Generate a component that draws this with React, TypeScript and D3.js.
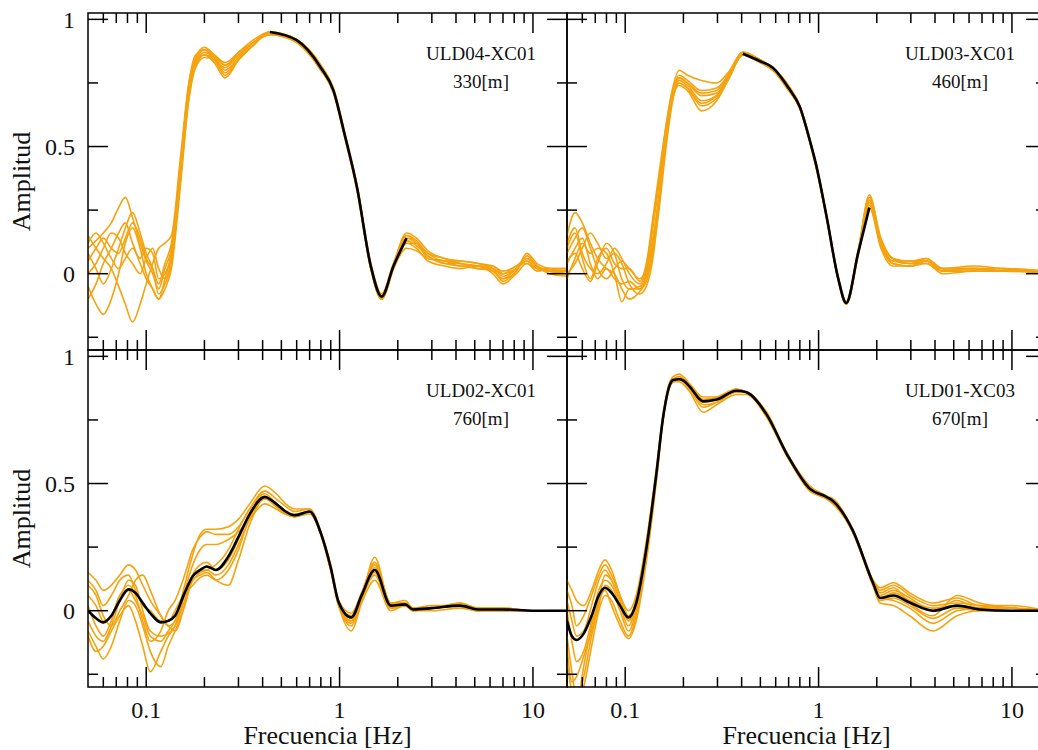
import * as d3 from "d3";

const W = 1038;
const H = 750;
const PANEL_W = 479;
const PANEL_H = 337;
const X_DOMAIN: [number, number] = [0.05, 15];
const Y_DOMAIN: [number, number] = [-0.3, 1.025];
const ORANGE = "#f4a310";
const FONT = "'Liberation Serif', 'DejaVu Serif', serif";

const xMajor = [0.1, 1, 10];
const xMinor = [0.06, 0.07, 0.08, 0.09, 0.2, 0.3, 0.4, 0.5, 0.6, 0.7, 0.8, 0.9, 2, 3, 4, 5, 6, 7, 8, 9];
const yMajor = [0, 0.5, 1];
const yMinor = [-0.25, 0.25, 0.75];
const xTickLabels = ["0.1", "1", "10"];
const yTickLabels = ["0", "0.5", "1"];

// ULD04-XC01, 330 m
const freqA = [0.05, 0.055, 0.06, 0.066, 0.072, 0.078, 0.085, 0.093, 0.1, 0.108, 0.116, 0.125, 0.135, 0.15, 0.166, 0.18, 0.2, 0.225, 0.256, 0.3, 0.36, 0.436, 0.6, 0.8, 0.93, 1.06, 1.23, 1.45, 1.65, 1.9, 2.22, 2.5, 2.86, 3.5, 4.2, 5.2, 6.2, 7.0, 8.2, 9.3, 10.5, 12.2, 15];
const orangeA = [
  [0.10, 0.13, 0.16, 0.20, 0.26, 0.30, 0.22, 0.12, 0.05, 0.00, -0.06, 0.02, 0.10, 0.42, 0.74, 0.85, 0.89, 0.86, 0.82, 0.87, 0.92, 0.95, 0.92, 0.81, 0.72, 0.55, 0.34, 0.04, -0.08, 0.04, 0.15, 0.13, 0.08, 0.06, 0.04, 0.03, 0.01, -0.02, 0.02, 0.06, 0.03, 0.01, 0.00],
  [-0.05, -0.12, -0.16, -0.10, 0.00, 0.12, 0.18, 0.10, 0.00, -0.06, -0.10, -0.02, 0.08, 0.40, 0.70, 0.82, 0.86, 0.84, 0.78, 0.84, 0.90, 0.95, 0.91, 0.80, 0.71, 0.54, 0.33, 0.02, -0.10, 0.02, 0.12, 0.10, 0.05, 0.03, 0.02, 0.03, 0.03, 0.00, 0.03, 0.04, 0.01, 0.02, 0.02],
  [0.15, 0.10, 0.06, 0.02, -0.05, -0.12, -0.19, -0.12, -0.04, 0.04, 0.10, 0.12, 0.15, 0.45, 0.75, 0.86, 0.88, 0.86, 0.83, 0.87, 0.91, 0.95, 0.92, 0.82, 0.73, 0.56, 0.35, 0.04, -0.08, 0.04, 0.16, 0.14, 0.09, 0.06, 0.05, 0.04, 0.02, -0.03, 0.01, 0.07, 0.03, 0.00, -0.01],
  [0.05, 0.10, 0.14, 0.10, 0.08, 0.14, 0.20, 0.14, 0.06, 0.02, -0.04, 0.04, 0.12, 0.40, 0.71, 0.83, 0.87, 0.85, 0.80, 0.85, 0.91, 0.95, 0.91, 0.81, 0.72, 0.55, 0.34, 0.03, -0.09, 0.03, 0.13, 0.11, 0.07, 0.04, 0.04, 0.02, 0.02, -0.01, 0.02, 0.05, 0.02, 0.01, 0.01],
  [0.00, 0.04, 0.10, 0.16, 0.14, 0.08, 0.04, 0.00, 0.06, 0.10, 0.02, -0.02, 0.06, 0.36, 0.68, 0.81, 0.85, 0.84, 0.81, 0.86, 0.91, 0.94, 0.91, 0.80, 0.72, 0.55, 0.34, 0.02, -0.10, 0.02, 0.10, 0.09, 0.06, 0.05, 0.03, 0.03, 0.00, -0.04, 0.00, 0.04, 0.02, 0.02, 0.02],
  [0.08, 0.02, -0.04, 0.02, 0.10, 0.18, 0.24, 0.16, 0.08, 0.02, -0.08, -0.04, 0.04, 0.38, 0.73, 0.84, 0.88, 0.85, 0.79, 0.85, 0.90, 0.95, 0.92, 0.82, 0.72, 0.55, 0.35, 0.03, -0.09, 0.03, 0.15, 0.12, 0.08, 0.05, 0.05, 0.04, 0.03, 0.01, 0.03, 0.06, 0.03, 0.01, 0.01],
  [-0.10, -0.04, 0.04, 0.10, 0.16, 0.20, 0.12, 0.06, 0.10, 0.08, -0.02, 0.00, 0.08, 0.42, 0.74, 0.84, 0.86, 0.83, 0.77, 0.84, 0.90, 0.95, 0.92, 0.81, 0.71, 0.54, 0.33, 0.02, -0.10, 0.02, 0.14, 0.12, 0.07, 0.04, 0.03, 0.02, 0.01, -0.02, 0.01, 0.08, 0.04, 0.02, 0.01],
  [0.12, 0.16, 0.12, 0.06, 0.02, 0.06, 0.10, 0.04, -0.02, -0.06, -0.10, -0.06, 0.02, 0.34, 0.69, 0.82, 0.86, 0.85, 0.82, 0.86, 0.91, 0.94, 0.91, 0.81, 0.72, 0.55, 0.34, 0.03, -0.09, 0.03, 0.12, 0.12, 0.06, 0.05, 0.04, 0.03, 0.02, 0.00, 0.02, 0.05, 0.02, 0.01, 0.00],
];
const meanFreqA = [0.436, 0.6, 0.8, 0.93, 1.06, 1.23, 1.45, 1.65, 1.9, 2.22];
const meanA = [0.95, 0.918, 0.81, 0.72, 0.55, 0.34, 0.03, -0.09, 0.03, 0.14];

// ULD03-XC01, 460 m
const freqB = [0.05, 0.055, 0.06, 0.066, 0.072, 0.08, 0.088, 0.096, 0.105, 0.119, 0.13, 0.139, 0.15, 0.164, 0.176, 0.19, 0.21, 0.248, 0.297, 0.34, 0.406, 0.5, 0.58, 0.7, 0.8, 0.9, 0.97, 1.1, 1.26, 1.39, 1.6, 1.83, 2.1, 2.42, 3.0, 3.6, 4.4, 6.3, 9, 15];
const orangeB = [
  [0.15, 0.24, 0.20, 0.12, 0.06, 0.02, 0.00, -0.06, -0.10, -0.07, -0.02, 0.08, 0.26, 0.52, 0.68, 0.75, 0.73, 0.66, 0.69, 0.76, 0.86, 0.83, 0.80, 0.72, 0.65, 0.52, 0.42, 0.22, -0.02, -0.12, 0.08, 0.30, 0.14, 0.06, 0.04, 0.06, 0.02, 0.02, 0.02, 0.01],
  [0.00, 0.04, 0.10, 0.16, 0.12, 0.06, 0.08, 0.04, -0.04, -0.08, -0.04, 0.06, 0.28, 0.55, 0.71, 0.78, 0.76, 0.72, 0.73, 0.78, 0.87, 0.84, 0.81, 0.73, 0.66, 0.53, 0.43, 0.23, -0.01, -0.11, 0.09, 0.29, 0.12, 0.04, 0.03, 0.05, 0.01, 0.02, 0.01, 0.01],
  [0.08, 0.14, 0.18, 0.10, 0.02, -0.02, 0.02, 0.05, 0.02, -0.02, 0.04, 0.20, 0.38, 0.60, 0.73, 0.80, 0.78, 0.76, 0.75, 0.79, 0.87, 0.84, 0.81, 0.74, 0.66, 0.53, 0.43, 0.23, -0.01, -0.11, 0.08, 0.31, 0.13, 0.05, 0.05, 0.05, 0.02, 0.03, 0.02, 0.01],
  [0.05, 0.08, 0.02, -0.03, 0.04, 0.12, 0.08, -0.02, -0.06, -0.05, 0.00, 0.12, 0.32, 0.56, 0.70, 0.76, 0.74, 0.68, 0.70, 0.77, 0.86, 0.83, 0.81, 0.73, 0.65, 0.52, 0.43, 0.22, -0.02, -0.12, 0.07, 0.27, 0.11, 0.05, 0.04, 0.04, 0.01, 0.01, 0.01, 0.01],
  [0.12, 0.18, 0.08, 0.02, 0.00, 0.04, 0.10, 0.06, 0.00, -0.04, 0.04, 0.18, 0.36, 0.58, 0.71, 0.77, 0.75, 0.70, 0.71, 0.77, 0.86, 0.84, 0.81, 0.73, 0.66, 0.53, 0.43, 0.22, -0.02, -0.11, 0.08, 0.28, 0.12, 0.06, 0.05, 0.06, 0.02, 0.02, 0.01, 0.01],
  [-0.02, 0.06, 0.12, 0.08, 0.10, 0.08, 0.00, -0.11, -0.06, -0.06, 0.00, 0.10, 0.30, 0.54, 0.69, 0.74, 0.72, 0.64, 0.68, 0.76, 0.86, 0.83, 0.80, 0.72, 0.65, 0.52, 0.42, 0.22, -0.02, -0.12, 0.07, 0.26, 0.10, 0.03, 0.03, 0.04, 0.00, 0.01, 0.01, 0.00],
  [0.10, 0.16, 0.06, -0.02, 0.06, 0.10, 0.04, 0.02, 0.02, -0.03, 0.06, 0.22, 0.40, 0.60, 0.72, 0.77, 0.75, 0.71, 0.72, 0.78, 0.87, 0.84, 0.81, 0.73, 0.66, 0.53, 0.43, 0.23, -0.01, -0.11, 0.09, 0.29, 0.13, 0.06, 0.04, 0.05, 0.02, 0.02, 0.02, 0.01],
  [0.04, 0.10, 0.14, 0.04, -0.02, 0.02, -0.02, -0.04, -0.03, -0.06, 0.02, 0.14, 0.30, 0.55, 0.70, 0.75, 0.73, 0.67, 0.70, 0.77, 0.86, 0.83, 0.80, 0.73, 0.65, 0.52, 0.42, 0.22, -0.02, -0.12, 0.08, 0.28, 0.11, 0.04, 0.03, 0.05, 0.01, 0.02, 0.01, 0.01],
];
const meanFreqB = [0.406, 0.5, 0.58, 0.7, 0.8, 0.9, 0.97, 1.1, 1.26, 1.39, 1.6, 1.83];
const meanB = [0.865, 0.835, 0.81, 0.73, 0.656, 0.525, 0.43, 0.225, -0.015, -0.115, 0.08, 0.26];

// ULD02-XC01, 760 m
const freqC = [0.05, 0.055, 0.06, 0.066, 0.073, 0.081, 0.088, 0.096, 0.105, 0.119, 0.13, 0.141, 0.158, 0.174, 0.19, 0.206, 0.229, 0.266, 0.3, 0.343, 0.41, 0.47, 0.526, 0.585, 0.7, 0.8, 0.9, 0.99, 1.15, 1.3, 1.52, 1.84, 2.18, 2.4, 3.0, 4.2, 5.2, 7, 10, 15];
const orangeC = [
  [0.15, 0.12, 0.08, 0.10, 0.14, 0.18, 0.16, 0.10, 0.04, -0.02, -0.06, -0.04, 0.10, 0.22, 0.30, 0.32, 0.32, 0.33, 0.36, 0.42, 0.49, 0.46, 0.42, 0.40, 0.40, 0.31, 0.17, 0.02, -0.04, 0.05, 0.17, 0.03, 0.03, 0.01, 0.01, 0.02, 0.01, 0.00, 0.00, 0.00],
  [-0.08, -0.14, -0.19, -0.14, -0.04, 0.04, 0.02, -0.06, -0.16, -0.22, -0.14, -0.08, 0.02, 0.14, 0.18, 0.19, 0.16, 0.20, 0.28, 0.38, 0.45, 0.42, 0.39, 0.37, 0.39, 0.30, 0.16, 0.02, -0.06, 0.04, 0.15, 0.01, 0.02, 0.00, 0.00, 0.01, 0.00, 0.00, 0.00, 0.00],
  [0.10, 0.06, -0.02, -0.06, 0.00, 0.06, 0.12, 0.14, 0.08, -0.02, -0.06, -0.08, 0.02, 0.12, 0.14, 0.15, 0.12, 0.10, 0.20, 0.34, 0.44, 0.41, 0.38, 0.37, 0.39, 0.30, 0.17, 0.03, -0.02, 0.07, 0.18, 0.03, 0.04, 0.01, 0.01, 0.03, 0.01, 0.01, 0.00, 0.00],
  [-0.04, -0.10, -0.12, -0.06, 0.04, 0.12, 0.10, 0.00, -0.08, -0.10, -0.09, -0.06, 0.04, 0.14, 0.16, 0.16, 0.14, 0.18, 0.26, 0.36, 0.44, 0.41, 0.38, 0.37, 0.38, 0.30, 0.16, 0.02, -0.05, 0.05, 0.14, 0.01, 0.02, 0.00, 0.01, 0.02, 0.00, 0.01, 0.00, 0.00],
  [0.06, 0.02, -0.04, -0.02, 0.06, 0.10, 0.06, -0.04, -0.12, -0.08, 0.00, 0.04, 0.14, 0.24, 0.29, 0.31, 0.30, 0.30, 0.33, 0.40, 0.47, 0.44, 0.41, 0.39, 0.40, 0.31, 0.18, 0.04, -0.01, 0.07, 0.19, 0.03, 0.03, 0.01, 0.02, 0.02, 0.01, 0.00, 0.00, 0.00],
  [-0.10, -0.16, -0.14, -0.08, -0.02, 0.02, -0.04, -0.14, -0.24, -0.16, -0.10, -0.06, 0.06, 0.12, 0.15, 0.16, 0.18, 0.24, 0.32, 0.40, 0.46, 0.42, 0.39, 0.37, 0.39, 0.30, 0.16, 0.02, -0.08, 0.03, 0.12, 0.00, 0.02, 0.00, 0.01, 0.02, 0.00, 0.00, 0.00, 0.00],
  [0.12, 0.08, 0.02, 0.06, 0.12, 0.14, 0.08, 0.02, 0.00, -0.04, -0.04, 0.00, 0.08, 0.18, 0.24, 0.26, 0.26, 0.28, 0.31, 0.36, 0.42, 0.40, 0.38, 0.38, 0.39, 0.31, 0.17, 0.03, -0.03, 0.06, 0.16, 0.02, 0.03, 0.01, 0.01, 0.03, 0.01, 0.01, 0.00, 0.00],
  [0.02, -0.06, -0.10, -0.04, 0.06, 0.08, 0.04, -0.02, -0.10, -0.12, -0.08, -0.04, 0.06, 0.10, 0.13, 0.14, 0.12, 0.16, 0.24, 0.37, 0.45, 0.42, 0.39, 0.37, 0.39, 0.30, 0.16, 0.02, -0.04, 0.05, 0.21, 0.02, 0.02, 0.00, 0.01, 0.02, 0.00, 0.00, 0.00, 0.00],
];
const meanC = [0.0, -0.03, -0.046, -0.02, 0.04, 0.084, 0.07, 0.03, -0.01, -0.046, -0.04, -0.02, 0.07, 0.135, 0.16, 0.174, 0.16, 0.213, 0.29, 0.38, 0.447, 0.42, 0.39, 0.375, 0.39, 0.305, 0.17, 0.032, -0.027, 0.06, 0.16, 0.02, 0.025, 0.005, 0.01, 0.02, 0.005, 0.005, 0.0, 0.0];

// ULD01-XC03, 670 m
const freqD = [0.05, 0.053, 0.056, 0.061, 0.067, 0.073, 0.0786, 0.085, 0.094, 0.104, 0.114, 0.129, 0.145, 0.157, 0.17, 0.177, 0.19, 0.2, 0.216, 0.253, 0.297, 0.376, 0.42, 0.54, 0.685, 0.9, 1.1, 1.19, 1.5, 1.91, 2.08, 2.44, 2.96, 3.9, 5.2, 6.8, 10, 15];
const orangeD = [
  [0.12, 0.08, 0.04, 0.02, 0.08, 0.16, 0.20, 0.16, 0.06, 0.00, 0.06, 0.28, 0.56, 0.77, 0.89, 0.91, 0.92, 0.91, 0.89, 0.84, 0.84, 0.87, 0.86, 0.77, 0.62, 0.49, 0.45, 0.43, 0.32, 0.12, 0.08, 0.10, 0.06, 0.02, 0.03, 0.02, 0.01, 0.00],
  [-0.20, -0.32, -0.36, -0.30, -0.14, 0.00, 0.06, 0.04, -0.04, -0.10, -0.02, 0.22, 0.52, 0.75, 0.88, 0.90, 0.91, 0.90, 0.87, 0.80, 0.82, 0.86, 0.86, 0.77, 0.61, 0.48, 0.44, 0.42, 0.31, 0.10, 0.03, 0.02, -0.02, -0.08, -0.02, 0.00, 0.00, 0.00],
  [0.04, -0.04, -0.10, -0.08, 0.02, 0.12, 0.16, 0.12, 0.04, -0.04, 0.02, 0.26, 0.55, 0.77, 0.90, 0.92, 0.93, 0.92, 0.89, 0.83, 0.83, 0.87, 0.86, 0.77, 0.62, 0.48, 0.45, 0.43, 0.32, 0.12, 0.09, 0.11, 0.07, 0.03, 0.05, 0.02, 0.02, 0.00],
  [-0.10, -0.24, -0.34, -0.26, -0.10, 0.02, 0.10, 0.08, 0.00, -0.08, 0.00, 0.24, 0.53, 0.76, 0.89, 0.91, 0.91, 0.90, 0.88, 0.82, 0.83, 0.86, 0.86, 0.76, 0.61, 0.48, 0.44, 0.43, 0.31, 0.11, 0.05, 0.04, 0.01, -0.05, 0.00, 0.01, 0.00, 0.00],
  [0.08, 0.02, -0.06, -0.02, 0.06, 0.14, 0.18, 0.14, 0.06, -0.02, 0.04, 0.27, 0.55, 0.76, 0.89, 0.91, 0.92, 0.91, 0.89, 0.83, 0.84, 0.87, 0.86, 0.78, 0.62, 0.49, 0.45, 0.44, 0.32, 0.11, 0.06, 0.08, 0.05, 0.00, 0.04, 0.01, 0.01, 0.00],
  [-0.30, -0.40, -0.38, -0.22, -0.06, 0.04, 0.08, 0.02, -0.06, -0.11, -0.04, 0.20, 0.51, 0.75, 0.88, 0.90, 0.90, 0.89, 0.86, 0.78, 0.81, 0.85, 0.85, 0.76, 0.61, 0.47, 0.44, 0.42, 0.31, 0.10, 0.04, 0.05, 0.02, -0.03, 0.01, 0.00, 0.00, 0.00],
  [0.00, -0.12, -0.20, -0.16, -0.04, 0.08, 0.12, 0.10, 0.02, -0.06, 0.02, 0.25, 0.54, 0.76, 0.89, 0.91, 0.92, 0.91, 0.88, 0.82, 0.83, 0.87, 0.86, 0.77, 0.62, 0.48, 0.45, 0.43, 0.32, 0.11, 0.05, 0.07, 0.04, 0.01, 0.02, 0.01, 0.01, 0.00],
  [-0.14, -0.28, -0.26, -0.18, -0.08, 0.04, 0.14, 0.12, 0.04, -0.04, 0.04, 0.26, 0.54, 0.76, 0.89, 0.91, 0.91, 0.90, 0.88, 0.81, 0.82, 0.86, 0.86, 0.77, 0.61, 0.48, 0.45, 0.43, 0.32, 0.12, 0.07, 0.09, 0.03, -0.02, 0.06, 0.03, 0.01, 0.00],
];
const meanD = [-0.04, -0.10, -0.115, -0.09, -0.02, 0.06, 0.09, 0.07, 0.02, -0.027, 0.03, 0.25, 0.54, 0.76, 0.888, 0.907, 0.91, 0.905, 0.88, 0.823, 0.83, 0.865, 0.86, 0.77, 0.616, 0.48, 0.447, 0.43, 0.317, 0.11, 0.05, 0.06, 0.032, 0.0, 0.02, 0.005, 0.0, 0.0];

interface PanelProps {
  id: string;
  left: number;
  top: number;
  freq: number[];
  orange: number[][];
  meanFreq: number[];
  mean: number[];
  name: string;
  depth: string;
  yLabels: boolean;
  xLabels: boolean;
}

function Panel({ id, left, top, freq, orange, meanFreq, mean, name, depth, yLabels, xLabels }: PanelProps) {
  const x = d3.scaleLog().domain(X_DOMAIN).range([0, PANEL_W]);
  const y = d3.scaleLinear().domain(Y_DOMAIN).range([PANEL_H, 0]);
  const line = d3
    .line<[number, number]>()
    .x((d) => x(d[0]))
    .y((d) => y(d[1]))
    .curve(d3.curveMonotoneX);

  const pairs = (fs: number[], vs: number[]) => fs.map((f, i) => [f, vs[i]] as [number, number]);

  return (
    <g transform={`translate(${left},${top})`}>
      <defs>
        <clipPath id={`clip-${id}`}>
          <rect x={0} y={0} width={PANEL_W} height={PANEL_H} />
        </clipPath>
      </defs>
      <g clipPath={`url(#clip-${id})`} fill="none">
        {orange.map((vals, i) => (
          <path key={i} d={line(pairs(freq, vals)) ?? ""} stroke={ORANGE} strokeWidth={1.6} strokeLinejoin="round" />
        ))}
        <path d={line(pairs(meanFreq, mean)) ?? ""} stroke="#000" strokeWidth={2.6} strokeLinejoin="round" />
      </g>

      <g stroke="#000" strokeWidth={1.5}>
        <rect x={0} y={0} width={PANEL_W} height={PANEL_H} fill="none" />
        {xMajor.map((t) => (
          <g key={`xM${t}`}>
            <line x1={x(t)} x2={x(t)} y1={0} y2={20} />
            <line x1={x(t)} x2={x(t)} y1={PANEL_H} y2={PANEL_H - 20} />
          </g>
        ))}
        {xMinor.map((t) => (
          <g key={`xm${t}`}>
            <line x1={x(t)} x2={x(t)} y1={0} y2={10} />
            <line x1={x(t)} x2={x(t)} y1={PANEL_H} y2={PANEL_H - 10} />
          </g>
        ))}
        {yMajor.map((t) => (
          <g key={`yM${t}`}>
            <line x1={0} x2={20} y1={y(t)} y2={y(t)} />
            <line x1={PANEL_W} x2={PANEL_W - 20} y1={y(t)} y2={y(t)} />
          </g>
        ))}
        {yMinor.map((t) => (
          <g key={`ym${t}`}>
            <line x1={0} x2={10} y1={y(t)} y2={y(t)} />
            <line x1={PANEL_W} x2={PANEL_W - 10} y1={y(t)} y2={y(t)} />
          </g>
        ))}
      </g>

      <g fontFamily={FONT} fill="#111" textAnchor="middle" fontSize={19}>
        <text x={PANEL_W - 86} y={47}>{name}</text>
        <text x={PANEL_W - 86} y={75}>{depth}</text>
      </g>

      {yLabels && (
        <g fontFamily={FONT} fontSize={24} fill="#111" textAnchor="end">
          {yMajor.map((t, i) => (
            <text key={t} x={-13} y={y(t)} dy="0.35em">{yTickLabels[i]}</text>
          ))}
          <text
            transform={`translate(-58,${PANEL_H / 2}) rotate(-90)`}
            textAnchor="middle"
            fontSize={26}
          >
            Amplitud
          </text>
        </g>
      )}

      {xLabels && (
        <g fontFamily={FONT} fontSize={24} fill="#111" textAnchor="middle">
          {xMajor.map((t, i) => (
            <text key={t} x={x(t)} y={PANEL_H + 31}>{xTickLabels[i]}</text>
          ))}
          <text x={PANEL_W / 2} y={PANEL_H + 57} fontSize={26}>Frecuencia [Hz]</text>
        </g>
      )}
    </g>
  );
}

export default function App() {
  return (
    <svg
      width={W}
      height={H}
      style={{ position: "fixed", left: 0, top: 0, display: "block", background: "#fff" }}
    >
      <rect width={W} height={H} fill="#fff" />
      <Panel id="a" left={88} top={13} freq={freqA} orange={orangeA} meanFreq={meanFreqA} mean={meanA} name="ULD04-XC01" depth="330[m]" yLabels xLabels={false} />
      <Panel id="b" left={567} top={13} freq={freqB} orange={orangeB} meanFreq={meanFreqB} mean={meanB} name="ULD03-XC01" depth="460[m]" yLabels={false} xLabels={false} />
      <Panel id="c" left={88} top={350} freq={freqC} orange={orangeC} meanFreq={freqC} mean={meanC} name="ULD02-XC01" depth="760[m]" yLabels xLabels />
      <Panel id="d" left={567} top={350} freq={freqD} orange={orangeD} meanFreq={freqD} mean={meanD} name="ULD01-XC03" depth="670[m]" yLabels={false} xLabels />
    </svg>
  );
}
